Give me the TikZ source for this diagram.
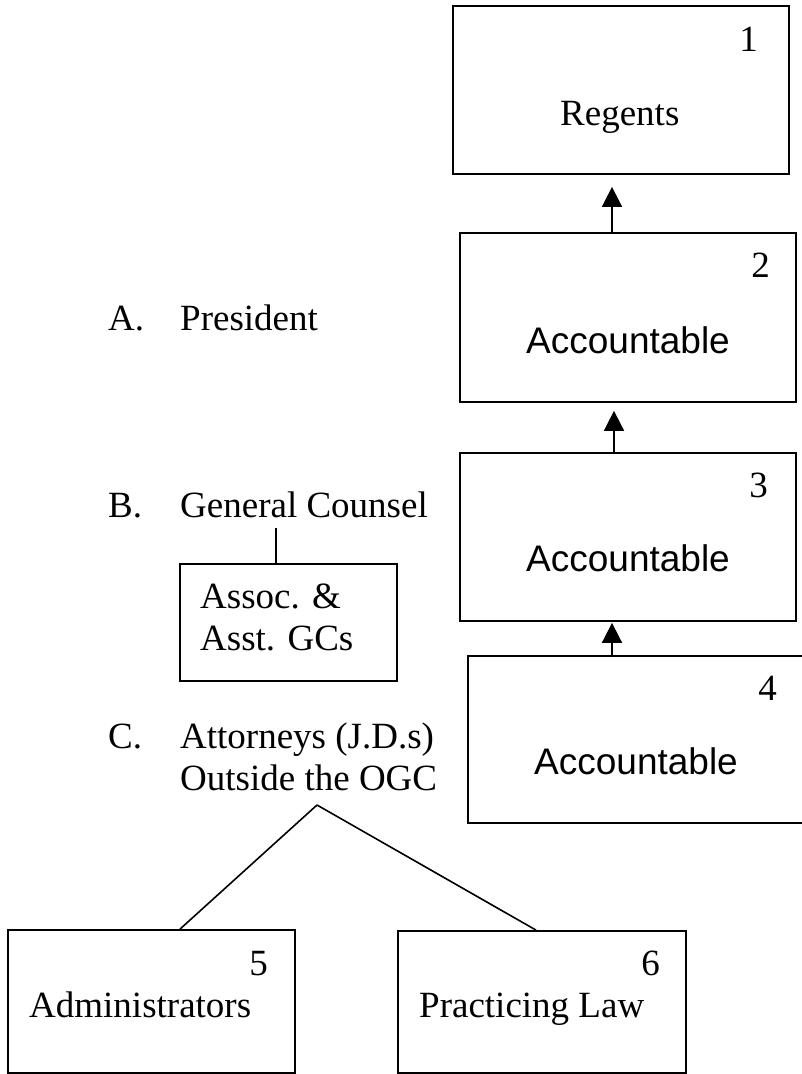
\documentclass[tikz,border=0pt]{standalone}
\usepackage{fontspec}
\setmainfont{Liberation Serif}
\newfontfamily\arialfont{Liberation Sans}
\usetikzlibrary{arrows.meta}
\begin{document}
\begin{tikzpicture}[x=1pt,y=-1pt,
  box/.style={draw=black,line width=1.8pt,rectangle,inner sep=0pt},
  txt/.style={inner sep=0pt,font=\fontsize{37}{43}\selectfont},
  stxt/.style={inner sep=0pt,font=\arialfont\fontsize{37}{43}\selectfont},
  arr/.style={line width=1.8pt,-{Triangle[width=20pt,length=20pt]}},
  link/.style={line width=1.6pt}]
\useasboundingbox (0,0) rectangle (801,1074);
% boxes
\node[box,minimum width=336pt,minimum height=168pt] (b1) at (621,90) {};
\node[box,minimum width=336pt,minimum height=169pt] (b2) at (628,317.5) {};
\node[box,minimum width=336pt,minimum height=168pt] (b3) at (628,537) {};
\node[box,minimum width=344pt,minimum height=167pt] (b4) at (640,739.5) {};
\node[box,minimum width=217pt,minimum height=117pt] (as) at (288.5,622.5) {};
\node[box,minimum width=287pt,minimum height=143pt] (b5) at (151.5,1001.5) {};
\node[box,minimum width=288pt,minimum height=142pt] (b6) at (542,1002) {};
% box texts
\node[txt,anchor=base east] (n1) at (758,51) {1};
\node[txt,anchor=base west] (t1) at (560,125) {Regents};
\node[txt,anchor=base east] (n2) at (770,277) {2};
\node[stxt,anchor=base west] (t2) at (526,353) {Accountable};
\node[txt,anchor=base east] (n3) at (768,497) {3};
\node[stxt,anchor=base west] (t3) at (526,571) {Accountable};
\node[txt,anchor=base east] (n4) at (777,700) {4};
\node[stxt,anchor=base west] (t4) at (534,774) {Accountable};
\node[txt,anchor=base east] (n5) at (268,975) {5};
\node[txt,anchor=base west] (t5) at (29,1017) {Administrators};
\node[txt,anchor=base east] (n6) at (660,975) {6};
\node[txt,anchor=base west] (t6) at (419,1017) {Practicing Law};
\node[txt,anchor=base west] (ta1) at (200,608) {Assoc. \&};
\node[txt,anchor=base west] (ta2) at (200,650) {Asst. GCs};
% left labels
\node[txt,anchor=base west] (la) at (108,330) {A.};
\node[txt,anchor=base west] (pres) at (180,330) {President};
\node[txt,anchor=base west] (lb) at (108,517) {B.};
\node[txt,anchor=base west] (gc) at (180,517) {General Counsel};
\node[txt,anchor=base west] (lc) at (108,748) {C.};
\node[txt,anchor=base west] (att) at (180,748) {Attorneys (J.D.s)};
\node[txt,anchor=base west] (ogc) at (180,790) {Outside the OGC};
% arrows
\draw[arr,shorten >=12pt] ([xshift=-16pt]b2.north) -- ([xshift=-16pt]b2.north |- b1.south);
\draw[arr,shorten >=8pt] ([xshift=-14pt]b3.north) -- ([xshift=-14pt]b3.north |- b2.south);
\draw[arr,shorten >=1pt] ([xshift=-28pt]b4.north) -- ([xshift=-28pt]b4.north |- b3.south);
% links
\coordinate (gcfoot) at ([xshift=-12.5pt]as.north |- 0,528);
\draw[link] ([xshift=-12.5pt]as.north) -- (gcfoot);
\coordinate (apex) at (317,805);
\draw[link] (apex) -- ([xshift=28.5pt]b5.north);
\draw[link] (apex) -- ([xshift=-6pt]b6.north);
\end{tikzpicture}
\end{document}
